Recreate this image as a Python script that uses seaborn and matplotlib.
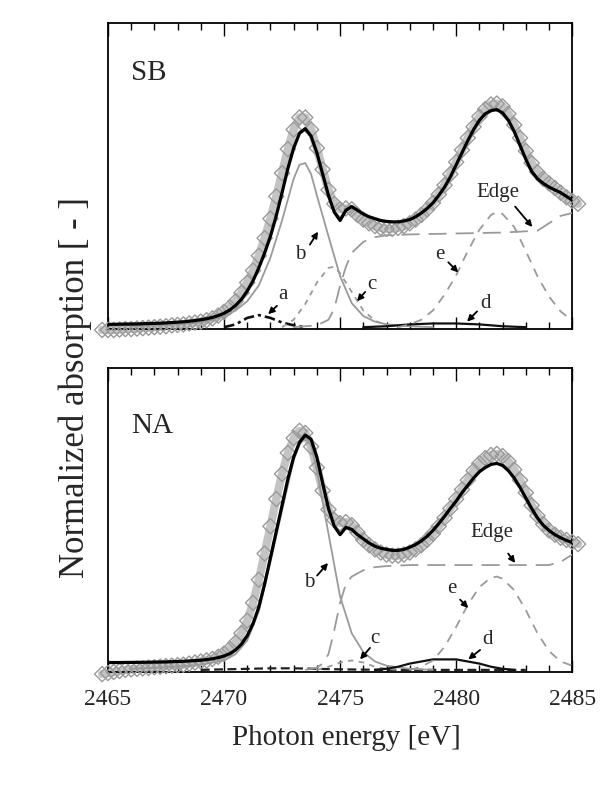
import numpy as np
import pandas as pd
import matplotlib
matplotlib.use("Agg")
import matplotlib.pyplot as plt
from matplotlib.ticker import MultipleLocator
import seaborn as sns

# ---------------- data ----------------
energy_meas = np.round(np.arange(2464.75, 2485.26, 0.25), 2)   # measured points
energy_fit = np.round(np.arange(2465.0, 2485.01, 0.25), 2)      # fitted curve

sb_measured = [-0.03, -0.03, -0.03, -0.025, -0.02, -0.02, -0.015, -0.01, -0.005, 0.0,
               0.005, 0.01, 0.02, 0.025, 0.03, 0.04, 0.05, 0.06, 0.075, 0.095,
               0.125, 0.165, 0.215, 0.28, 0.37, 0.48, 0.61, 0.77, 0.96, 1.17,
               1.41, 1.66, 1.92, 2.13, 2.26, 2.26, 2.13, 1.93, 1.70, 1.48,
               1.33, 1.27, 1.28, 1.27, 1.21, 1.16, 1.12, 1.09, 1.07, 1.06,
               1.06, 1.07, 1.09, 1.12, 1.16, 1.21, 1.27, 1.34, 1.43, 1.53,
               1.65, 1.78, 1.91, 2.04, 2.16, 2.27, 2.35, 2.40, 2.41, 2.38,
               2.30, 2.18, 2.04, 1.90, 1.77, 1.67, 1.60, 1.55, 1.50, 1.45,
               1.40, 1.36, 1.33]
sb_fit = [0.030, 0.031, 0.032, 0.033, 0.034, 0.035, 0.037, 0.039, 0.041, 0.043,
          0.046, 0.050, 0.054, 0.058, 0.064, 0.071, 0.080, 0.091, 0.105, 0.125,
          0.150, 0.185, 0.235, 0.300, 0.390, 0.500, 0.640, 0.800, 0.980, 1.200,
          1.450, 1.710, 1.930, 2.090, 2.140, 2.060, 1.880, 1.650, 1.420, 1.240,
          1.150, 1.260, 1.300, 1.260, 1.220, 1.190, 1.170, 1.150, 1.140, 1.135,
          1.135, 1.145, 1.160, 1.190, 1.230, 1.280, 1.340, 1.420, 1.510, 1.620,
          1.750, 1.880, 2.010, 2.130, 2.230, 2.300, 2.335, 2.345, 2.310, 2.230,
          2.110, 1.960, 1.810, 1.680, 1.600, 1.550, 1.510, 1.480, 1.450, 1.410,
          1.370]

na_measured = [-0.04, -0.03, -0.02, -0.01, 0.0, 0.005, 0.01, 0.015, 0.02, 0.025,
               0.03, 0.035, 0.04, 0.045, 0.05, 0.06, 0.07, 0.08, 0.09, 0.105,
               0.125, 0.155, 0.20, 0.26, 0.35, 0.47, 0.64, 0.86, 1.11, 1.37,
               1.63, 1.87, 2.07, 2.21, 2.28, 2.26, 2.13, 1.93, 1.71, 1.53,
               1.43, 1.40, 1.41, 1.38, 1.31, 1.24, 1.19, 1.15, 1.12, 1.10,
               1.09, 1.09, 1.10, 1.12, 1.15, 1.19, 1.24, 1.30, 1.37, 1.45,
               1.54, 1.63, 1.72, 1.81, 1.90, 1.97, 2.02, 2.05, 2.06, 2.04,
               1.99, 1.91, 1.81, 1.69, 1.57, 1.47, 1.39, 1.33, 1.29, 1.26,
               1.24, 1.22, 1.20]
na_fit = [0.070, 0.070, 0.070, 0.071, 0.071, 0.072, 0.072, 0.073, 0.074, 0.075,
          0.076, 0.078, 0.080, 0.082, 0.085, 0.088, 0.092, 0.098, 0.106, 0.117,
          0.132, 0.155, 0.190, 0.245, 0.325, 0.440, 0.600, 0.820, 1.070, 1.320,
          1.570, 1.820, 2.030, 2.170, 2.240, 2.200, 2.030, 1.780, 1.540, 1.370,
          1.290, 1.360, 1.340, 1.290, 1.250, 1.210, 1.180, 1.160, 1.150, 1.140,
          1.140, 1.150, 1.170, 1.195, 1.230, 1.275, 1.330, 1.395, 1.465, 1.540,
          1.610, 1.690, 1.760, 1.830, 1.890, 1.930, 1.960, 1.970, 1.950, 1.900,
          1.830, 1.740, 1.640, 1.540, 1.450, 1.380, 1.330, 1.290, 1.260, 1.235,
          1.215]

# fitted components: SB
sb_a_E = [2470.0, 2470.5, 2471.0, 2471.5, 2472.0, 2472.5, 2473.0, 2473.5]
sb_a = [0.0, 0.03, 0.10, 0.13, 0.10, 0.05, 0.02, 0.0]
sb_b_E = [2466.0, 2467.0, 2468.0, 2469.0, 2469.5, 2470.0, 2470.5, 2471.0, 2471.5, 2472.0,
          2472.5, 2473.0, 2473.25, 2473.5, 2473.75, 2474.0, 2474.5, 2475.0, 2475.5, 2476.0,
          2476.5, 2477.0, 2478.0, 2479.0]
sb_b = [0.01, 0.02, 0.03, 0.05, 0.08, 0.12, 0.18, 0.28, 0.45, 0.75,
        1.15, 1.60, 1.75, 1.77, 1.65, 1.42, 0.98, 0.55, 0.26, 0.12,
        0.06, 0.03, 0.01, 0.0]
sb_c_E = [2472.5, 2473.0, 2473.5, 2474.0, 2474.5, 2474.75, 2475.0, 2475.5, 2476.0, 2476.5,
          2477.0, 2477.5]
sb_c = [0.0, 0.08, 0.25, 0.48, 0.64, 0.65, 0.58, 0.38, 0.18, 0.07, 0.02, 0.0]
sb_d_E = [2476.0, 2477.0, 2478.0, 2479.0, 2480.0, 2481.0, 2482.0, 2483.0]
sb_d = [0.0, 0.01, 0.03, 0.04, 0.04, 0.03, 0.01, 0.0]
sb_e_E = [2477.5, 2478.0, 2478.5, 2479.0, 2479.5, 2480.0, 2480.5, 2481.0, 2481.5, 2481.75,
          2482.0, 2482.5, 2483.0, 2483.5, 2484.0, 2484.5, 2485.0]
sb_e = [0.0, 0.03, 0.08, 0.18, 0.35, 0.56, 0.82, 1.05, 1.21, 1.24,
        1.22, 1.08, 0.82, 0.55, 0.33, 0.17, 0.07]
sb_edge_E = [2473.0, 2474.0, 2474.5, 2474.75, 2475.0, 2475.25, 2475.5, 2476.0, 2476.5, 2477.0,
             2478.0, 2480.0, 2482.0, 2483.5, 2484.0, 2484.5, 2485.0]
sb_edge = [0.0, 0.02, 0.08, 0.20, 0.45, 0.65, 0.80, 0.92, 0.97, 0.99,
           1.0, 1.01, 1.02, 1.04, 1.12, 1.20, 1.23]

# fitted components: NA
na_a_E = [2469.0, 2470.0, 2471.0, 2472.0, 2473.0, 2474.0, 2475.0, 2477.0, 2480.0, 2483.0]
na_a = [0.0, 0.005, 0.01, 0.015, 0.015, 0.01, 0.005, 0.0, 0.0, 0.0]
na_b_E = [2466.0, 2467.0, 2468.0, 2469.0, 2470.0, 2470.5, 2471.0, 2471.5, 2472.0, 2472.5,
          2473.0, 2473.25, 2473.5, 2473.75, 2474.0, 2474.5, 2475.0, 2475.5, 2476.0, 2476.5,
          2477.0, 2478.0, 2479.0]
na_b = [0.01, 0.02, 0.03, 0.05, 0.09, 0.15, 0.28, 0.56, 1.03, 1.52,
        2.00, 2.15, 2.21, 2.14, 1.90, 1.30, 0.70, 0.35, 0.17, 0.08,
        0.04, 0.01, 0.0]
na_c_E = [2474.0, 2474.5, 2475.0, 2475.5, 2476.0, 2476.5, 2477.0, 2477.5]
na_c = [0.0, 0.03, 0.07, 0.09, 0.07, 0.03, 0.01, 0.0]
na_d_E = [2476.5, 2477.0, 2477.5, 2478.0, 2478.5, 2479.0, 2479.5, 2480.0, 2480.5, 2481.0,
          2481.5, 2482.0, 2482.5]
na_d = [0.0, 0.01, 0.03, 0.06, 0.08, 0.10, 0.10, 0.10, 0.08, 0.06, 0.03, 0.01, 0.0]
na_e_E = [2478.0, 2478.5, 2479.0, 2479.5, 2480.0, 2480.5, 2481.0, 2481.5, 2481.75, 2482.0,
          2482.5, 2483.0, 2483.5, 2484.0, 2484.5, 2485.0]
na_e = [0.0, 0.03, 0.09, 0.22, 0.41, 0.62, 0.79, 0.88, 0.89, 0.87,
        0.76, 0.57, 0.35, 0.18, 0.08, 0.04]
na_edge_E = [2473.5, 2474.0, 2474.25, 2474.5, 2474.75, 2475.0, 2475.25, 2475.5, 2476.0, 2476.5,
             2477.0, 2478.0, 2484.0, 2484.5, 2485.0]
na_edge = [0.0, 0.02, 0.06, 0.15, 0.38, 0.64, 0.82, 0.89, 0.95, 0.98,
           0.99, 1.0, 1.0, 1.03, 1.10]

x_ticks = [2465, 2470, 2475, 2480, 2485]
x_ticklabels = ["2465", "2470", "2475", "2480", "2485"]

# ---------------- style ----------------
sns.set_style("ticks")
plt.rcParams["font.family"] = ["Liberation Serif", "DejaVu Serif"]

GRAY = "#9a9a9a"
fig = plt.figure(figsize=(6.03, 7.90), dpi=100)
ax_sb = fig.add_axes([0.179, 0.5835, 0.770, 0.3875])
ax_na = fig.add_axes([0.179, 0.1494, 0.770, 0.3848])


def draw_panel(ax, meas, fit, comps, ylim):
    # measured: dense band + open diamonds
    sns.lineplot(x=energy_meas, y=meas, ax=ax, color="#c4c4c4", lw=6,
                 sort=False, estimator=None, clip_on=False, zorder=2)
    sns.scatterplot(x=energy_meas, y=meas, ax=ax, marker="D", s=60,
                    facecolor="none", edgecolor=GRAY, linewidth=1.0,
                    clip_on=False, zorder=3)
    for (xs, ys, color, lw, dash) in comps:
        line = sns.lineplot(x=xs, y=ys, ax=ax, color=color, lw=lw,
                            sort=False, estimator=None, zorder=4)
        line.lines[-1].set_linestyle(dash)
    sns.lineplot(x=energy_fit, y=fit, ax=ax, color="black", lw=2.3,
                 sort=False, estimator=None, zorder=5)
    ax.set_xlim(2465, 2485)
    ax.set_ylim(*ylim)
    ax.set_yticks([])
    ax.set_xticks(x_ticks)
    ax.xaxis.set_minor_locator(MultipleLocator(1))
    ax.tick_params(axis="x", which="both", direction="in", top=True, bottom=True,
                   color="black", width=1.0)
    ax.tick_params(axis="x", which="major", length=9)
    ax.tick_params(axis="x", which="minor", length=5)
    ax.set_xlabel("")
    ax.set_ylabel("")
    for s in ax.spines.values():
        s.set_visible(True)
        s.set_color("black")
        s.set_linewidth(1.3)


def label(ax, text, txy, tail, head, size=15):
    ax.text(txy[0], txy[1], text, fontsize=size, ha="center", va="center", zorder=6)
    ax.annotate("", xy=head, xytext=tail,
                arrowprops=dict(arrowstyle="-|>", color="black", lw=1.3,
                                mutation_scale=9, shrinkA=0, shrinkB=0), zorder=6)


sb_comps = [
    (sb_a_E, sb_a, "#111111", 1.9, (0, (4, 1.5, 1.2, 1.5))),
    (sb_b_E, sb_b, GRAY, 1.3, "-"),
    (sb_c_E, sb_c, GRAY, 1.3, (0, (3, 3))),
    (sb_d_E, sb_d, "#111111", 1.6, "-"),
    (sb_e_E, sb_e, GRAY, 1.3, (0, (5, 4))),
    (sb_edge_E, sb_edge, GRAY, 1.3, (0, (10, 5))),
]
na_comps = [
    (na_a_E, na_a, "#222222", 1.6, (0, (4, 2))),
    (na_b_E, na_b, GRAY, 1.3, "-"),
    (na_c_E, na_c, GRAY, 1.3, (0, (3, 3))),
    (na_d_E, na_d, "#111111", 1.6, "-"),
    (na_e_E, na_e, GRAY, 1.3, (0, (5, 4))),
    (na_edge_E, na_edge, GRAY, 1.3, (0, (10, 5))),
]

draw_panel(ax_sb, sb_measured, sb_fit, sb_comps, (-0.02, 3.28))
draw_panel(ax_na, na_measured, na_fit, na_comps, (-0.02, 2.88))
ax_sb.tick_params(axis="x", labelbottom=False)
ax_na.set_xticklabels(x_ticklabels)
ax_na.tick_params(axis="x", which="major", labelsize=17, pad=12)

# panel titles
ax_sb.text(2466.0, 2.74, "SB", fontsize=21, ha="left", va="center")
ax_na.text(2466.0, 2.33, "NA", fontsize=21, ha="left", va="center")

# component labels, SB
label(ax_sb, "a", (2472.55, 0.35), (2472.28, 0.23), (2471.9, 0.14))
label(ax_sb, "b", (2473.28, 0.78), (2473.7, 0.89), (2474.05, 1.03))
label(ax_sb, "c", (2476.38, 0.46), (2476.08, 0.38), (2475.73, 0.28))
label(ax_sb, "e", (2479.31, 0.78), (2479.66, 0.70), (2480.09, 0.59))
label(ax_sb, "d", (2481.25, 0.25), (2480.9, 0.17), (2480.47, 0.06))
label(ax_sb, "Edge", (2481.8, 1.45), (2482.54, 1.30), (2483.28, 1.08))

# component labels, NA
label(ax_na, "b", (2473.66, 0.83), (2474.01, 0.90), (2474.48, 1.02))
label(ax_na, "c", (2476.51, 0.30), (2476.29, 0.21), (2475.86, 0.10))
label(ax_na, "e", (2479.83, 0.78), (2480.17, 0.67), (2480.52, 0.59))
label(ax_na, "d", (2481.34, 0.29), (2481.03, 0.19), (2480.52, 0.10))
label(ax_na, "Edge", (2481.55, 1.31), (2482.24, 1.11), (2482.54, 1.02))

fig.text(0.124, 0.509, "Normalized absorption [ - ]", rotation=90,
         ha="center", va="center", fontsize=25)
fig.text(0.575, 0.066, "Photon energy [eV]", ha="center", va="center", fontsize=21)

fig.savefig("out.png", dpi=100, facecolor="white")
